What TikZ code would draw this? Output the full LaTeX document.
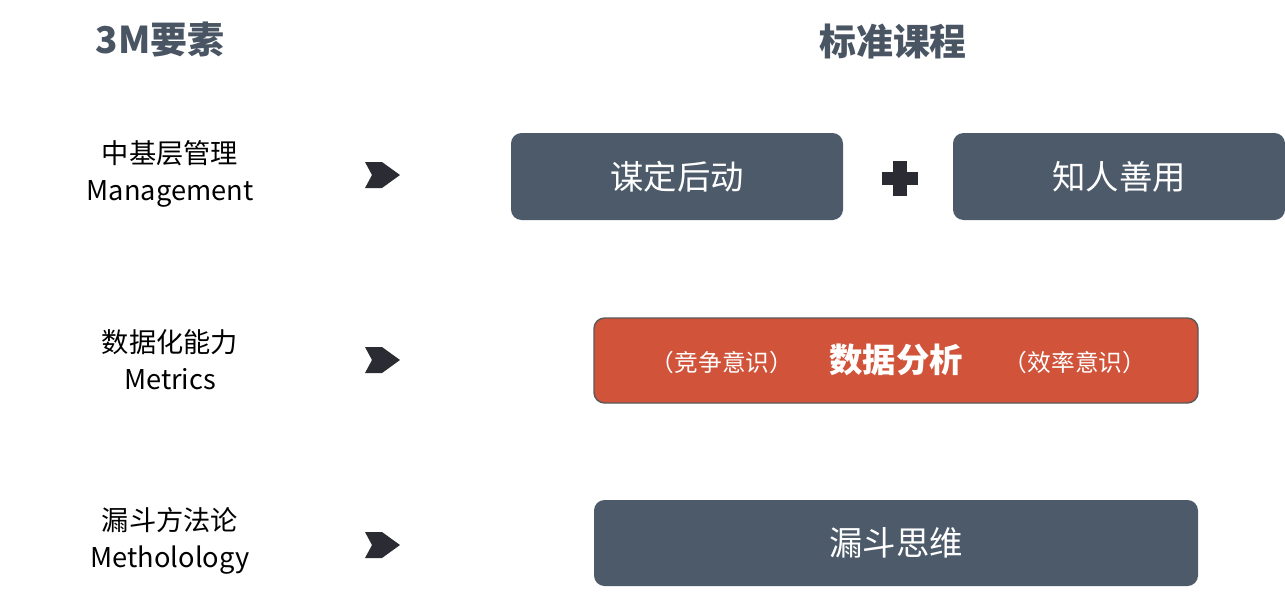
\documentclass[tikz,border=0pt]{standalone}
\usepackage{fontspec}
\setmainfont{Noto Sans CJK SC}
\begin{document}
\begin{tikzpicture}[x=0.02cm,y=-0.02cm]
\definecolor{slate}{HTML}{4D5A6A}
\definecolor{head}{HTML}{4A5563}
\definecolor{redb}{HTML}{D0533A}
\definecolor{arr}{HTML}{2B2B33}
\tikzset{
  box/.style={draw=none,fill=slate,rounded corners=6pt,text=white,font=\fontsize{19}{22}\selectfont},
  lbl/.style={align=center,font=\fontsize{15.5}{21}\selectfont,text=black},
  hd/.style={text=head,font=\bfseries\fontsize{21}{24}\selectfont},
}
\useasboundingbox (0,0) rectangle (1285,600);
\node[hd] (h1) at (160,40) {3M要素};
\node[hd] (h2) at (893,42) {标准课程};
\node[lbl] (l1) at (170,174) {中基层管理\\Management};
\node[lbl] (l2) at (170,360) {数据化能力\\Metrics};
\node[lbl] (l3) at (170,541) {漏斗方法论\\Metholology};
\foreach \n/\y in {a1/175,a2/360,a3/545}{
  \fill[arr] (365,\y-13) -- (382,\y-13) -- (400,\y) -- (382,\y+13) -- (365,\y+13) -- (372,\y) -- cycle;
  \coordinate (\n) at (383,\y);
}
\path[box] (511,133) rectangle (843,220);
\node[text=white,font=\fontsize{19}{22}\selectfont] (b1) at (677,177) {谋定后动};
\path[box] (953,133) rectangle (1285,220);
\node[text=white,font=\fontsize{19}{22}\selectfont] (b2) at (1119,177) {知人善用};
\fill[arr] (893,161) rectangle (907,196);
\fill[arr] (882,172) rectangle (918,185);
\draw[fill=redb,draw=gray!70!black,line width=0.8pt,rounded corners=6pt] (594,318) rectangle (1198,403);
\node[text=white,font=\fontsize{13.5}{16}\selectfont] (r1) at (722,362) {（竞争意识）};
\node[text=white,font=\bfseries\fontsize{19}{22}\selectfont] (r2) at (896,360) {数据分析};
\node[text=white,font=\fontsize{13.5}{16}\selectfont] (r3) at (1075,362) {（效率意识）};
\path[box] (594,500) rectangle (1198,586);
\node[text=white,font=\fontsize{19}{22}\selectfont] (b3) at (896,543) {漏斗思维};
\end{tikzpicture}
\end{document}
